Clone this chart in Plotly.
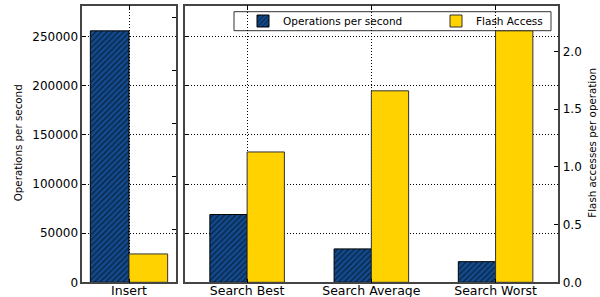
import plotly.graph_objects as go

# ---- data ----
left_categories = ["Insert"]
right_categories = ["Search Best", "Search Average", "Search Worst"]
ops_insert = [256000]
flash_insert = [0.0268]
ops_search = [69000, 34000, 21000]
flash_search = [1.13, 1.66, 2.18]

ops_range = [0, 281600]
flash_range_left = [0, 0.2614]
flash_range_right = [0, 2.398]

BLUE = "#134b8e"
YELLOW = "#FFD200"
FONT = "DejaVu Sans"

fig = go.Figure()

hatch = dict(shape="/", fillmode="overlay", fgcolor="black", size=4, solidity=0.35)

fig.add_trace(go.Bar(x=left_categories, y=ops_insert, xaxis="x", yaxis="y",
                     offset=-0.3, width=0.3, name="Operations per second",
                     legend="legend", legendgroup="ops",
                     marker=dict(color=BLUE, pattern=hatch, line=dict(color="black", width=1))))
fig.add_trace(go.Bar(x=left_categories, y=flash_insert, xaxis="x", yaxis="y2",
                     offset=0, width=0.3, name="Flash Access", legend="legend2",
                     legendgroup="flash",
                     marker=dict(color=YELLOW, line=dict(color="#333", width=1))))
fig.add_trace(go.Bar(x=right_categories, y=ops_search, xaxis="x2", yaxis="y3",
                     offset=-0.3, width=0.3, name="Operations per second",
                     legend="legend", legendgroup="ops", showlegend=False,
                     marker=dict(color=BLUE, pattern=hatch, line=dict(color="black", width=1))))
fig.add_trace(go.Bar(x=right_categories, y=flash_search, xaxis="x2", yaxis="y4",
                     offset=0, width=0.3, name="Flash Access", legend="legend2",
                     legendgroup="flash", showlegend=False,
                     marker=dict(color=YELLOW, line=dict(color="#333", width=1))))

ydom = [1 - 282.3 / 297, 1 - 5.7 / 297]
spine = dict(showline=True, linecolor="#444", linewidth=1.5)
grid = dict(showgrid=True, gridcolor="black", gridwidth=1, griddash="1px,2px")
ytickfont = dict(family=FONT, size=12, color="black")
xtickfont = dict(family=FONT, size=12.5, color="black")
legfont = dict(family=FONT, size=10.5, color="black")

fig.update_layout(
    width=600, height=297,
    margin=dict(l=0, r=0, t=0, b=0, autoexpand=False),
    paper_bgcolor="white", plot_bgcolor="white",
    barmode="overlay",
    font=dict(family=FONT, color="black"),
    xaxis=dict(domain=[82.3 / 600, 175.7 / 600], anchor="y", type="category",
               range=[-0.3625, 0.3625], ticks="inside", ticklen=4, tickcolor="black",
               mirror="ticks", tickfont=xtickfont, ticklabelstandoff=-4,
               automargin=False, **spine, **grid),
    yaxis=dict(domain=ydom, anchor="x", range=ops_range, dtick=50000, tickformat="d",
               ticks="inside", ticklen=4, tickcolor="black", mirror=True,
               tickfont=ytickfont, automargin=False, zeroline=False, **spine, **grid),
    yaxis2=dict(overlaying="y", side="right", anchor="x", range=flash_range_left,
                dtick=0.05, ticks="inside", ticklen=4, tickcolor="black",
                showticklabels=False, showgrid=False, zeroline=False, showline=False,
                automargin=False),
    xaxis2=dict(domain=[185 / 600, 557.7 / 600], anchor="y3", type="category",
                range=[-0.5, 2.5], ticks="inside", ticklen=4, tickcolor="black",
                mirror="ticks", tickfont=xtickfont, ticklabelstandoff=-4,
                automargin=False, **spine, **grid),
    yaxis3=dict(domain=ydom, anchor="x2", range=ops_range, dtick=50000,
                ticks="inside", ticklen=4, tickcolor="black", mirror=True,
                showticklabels=False, automargin=False, zeroline=False, **spine, **grid),
    yaxis4=dict(overlaying="y3", side="right", anchor="x2", range=flash_range_right,
                dtick=0.5, tickformat=".1f", ticks="inside", ticklen=4, tickcolor="black",
                tickfont=ytickfont, ticklabelstandoff=4, showgrid=False, zeroline=False,
                showline=False, automargin=False),
    legend=dict(orientation="h", x=243 / 600, y=1 - 6.5 / 297, xanchor="left",
                yanchor="top", bgcolor="rgba(0,0,0,0)", borderwidth=0, font=legfont),
    legend2=dict(orientation="h", x=436 / 600, y=1 - 6.5 / 297, xanchor="left",
                 yanchor="top", bgcolor="rgba(0,0,0,0)", borderwidth=0, font=legfont),
    shapes=[dict(type="rect", xref="paper", yref="paper",
                 x0=234 / 600, x1=551 / 600, y0=1 - 30.7 / 297, y1=1 - 11.7 / 297,
                 line=dict(color="#333", width=1), fillcolor="white", layer="below")],
    annotations=[
        dict(text="Operations per second", x=18 / 600, y=1 - 143.3 / 297, xref="paper",
             yref="paper", textangle=-90, showarrow=False, xanchor="center",
             yanchor="middle", font=dict(family=FONT, size=10.3, color="black")),
        dict(text="Flash accesses per operation", x=591.7 / 600, y=1 - 143 / 297,
             xref="paper", yref="paper", textangle=-90, showarrow=False,
             xanchor="center", yanchor="middle",
             font=dict(family=FONT, size=10.3, color="black")),
    ],
)

fig.write_html("out.html", config={"displayModeBar": False},
               post_script="document.body.style.margin='0px';")
